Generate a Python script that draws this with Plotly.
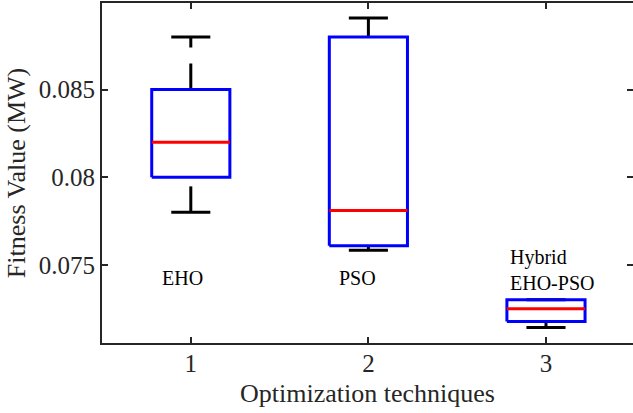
import plotly.graph_objects as go

# ---- data ----
positions = [1, 2, 3]
tick_labels = ["1", "2", "3"]
whisker_low = [0.0780, 0.07584, 0.07143]
q1 = [0.0800, 0.07609, 0.07177]
median = [0.0820, 0.07810, 0.07251]
q3 = [0.0850, 0.0880, 0.07301]
whisker_high = [0.0880, 0.08909, 0.07301]
label_texts = ["EHO", "PSO", "Hybrid<br>EHO-PSO"]
label_x = [0.955, 1.94, 2.786]
label_y = [0.07427, 0.07428, 0.07472]
label_anchor = ["center", "center", "left"]

y_ticks = [0.075, 0.08, 0.085]
y_tick_text = ["0.075", "0.08", "0.085"]

# ---- style ----
FONT = "Liberation Serif"
AX = "#262626"
BOX_HALF = 0.22
CAP_HALF = 0.11
WHISK_DASH = "26px,16px"

fig = go.Figure()

for i, p in enumerate(positions):
    fig.add_trace(go.Scatter(x=[p, p], y=[q3[i], whisker_high[i]], mode="lines",
                             line=dict(color="black", width=3, dash=WHISK_DASH),
                             hoverinfo="skip", showlegend=False))
    fig.add_trace(go.Scatter(x=[p, p], y=[whisker_low[i], q1[i]], mode="lines",
                             line=dict(color="black", width=3, dash=WHISK_DASH),
                             hoverinfo="skip", showlegend=False))
    for v in (whisker_high[i], whisker_low[i]):
        fig.add_trace(go.Scatter(x=[p - CAP_HALF, p + CAP_HALF], y=[v, v], mode="lines",
                                 line=dict(color="black", width=3),
                                 hoverinfo="skip", showlegend=False))
    fig.add_trace(go.Scatter(
        x=[p - BOX_HALF, p + BOX_HALF, p + BOX_HALF, p - BOX_HALF, p - BOX_HALF],
        y=[q1[i], q1[i], q3[i], q3[i], q1[i]], mode="lines",
        line=dict(color="#0000ff", width=3), hoverinfo="skip", showlegend=False))
    fig.add_trace(go.Scatter(x=[p - BOX_HALF, p + BOX_HALF], y=[median[i], median[i]],
                             mode="lines", line=dict(color="#ff0000", width=3),
                             hoverinfo="skip", showlegend=False))

fig.add_trace(go.Scatter(x=[positions[0]], y=[median[0]], yaxis="y2", mode="markers",
                         marker=dict(opacity=0), hoverinfo="skip", showlegend=False))

for t, x, y, a in zip(label_texts, label_x, label_y, label_anchor):
    fig.add_annotation(x=x, y=y, text=t, showarrow=False, xanchor=a, yanchor="middle",
                       align="left", font=dict(family=FONT, size=20, color="black"))

fig.update_layout(
    width=633, height=413,
    margin=dict(l=102, r=0, t=3, b=70),
    plot_bgcolor="white", paper_bgcolor="white",
    font=dict(family=FONT, color=AX, size=25),
    xaxis=dict(range=[0.5, 3.49], tickvals=positions, ticktext=tick_labels,
               ticks="inside", ticklen=6, tickwidth=2, tickcolor=AX,
               showline=True, linecolor=AX, linewidth=2, mirror="ticks",
               showgrid=False, zeroline=False, automargin=False,
               ticklabelstandoff=-3,
               tickfont=dict(family=FONT, size=25, color=AX),
               title=dict(text="Optimization techniques",
                          font=dict(family=FONT, size=26, color=AX), standoff=8)),
    yaxis=dict(range=[0.07055, 0.08994], tickvals=y_ticks, ticktext=y_tick_text,
               ticks="inside", ticklen=6, tickwidth=2, tickcolor=AX,
               showline=True, linecolor=AX, linewidth=2, mirror=False,
               showgrid=False, zeroline=False, automargin=False,
               tickfont=dict(family=FONT, size=25, color=AX),
               title=dict(text="Fitness Value (MW)",
                          font=dict(family=FONT, size=26, color=AX), standoff=6)),
    yaxis2=dict(overlaying="y", side="right", matches="y", tickvals=y_ticks,
                showticklabels=False, ticks="inside", ticklen=6, tickwidth=2,
                tickcolor=AX, showline=False, showgrid=False, zeroline=False),
)

fig.write_html("out.html", config={"displayModeBar": False},
               post_script="document.body.style.margin='0px';")
